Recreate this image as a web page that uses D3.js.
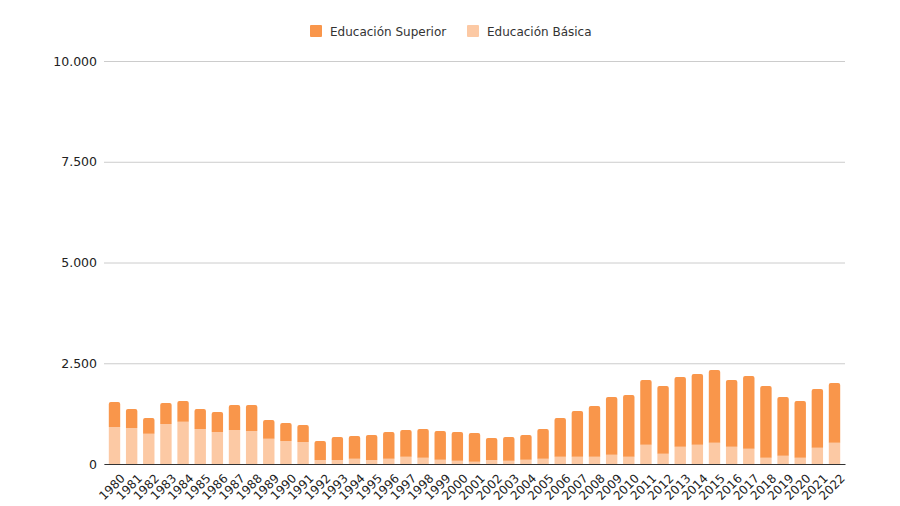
<!DOCTYPE html>
<html>
<head>
<meta charset="utf-8">
<script src="https://cdn.jsdelivr.net/npm/d3@7"></script>
<style>
  body { margin: 0; background: #fff; }
  text { font-family: "DejaVu Sans", Verdana, sans-serif; }
</style>
</head>
<body>
<div id="chart"></div>
<script>
const years = d3.range(1980, 2023).map(String);
const totals = [1540, 1365, 1140, 1514, 1563, 1365, 1290, 1464, 1464, 1092,
  1017, 968, 571, 670, 695, 720, 794, 844, 868, 819,
  794, 769, 645, 670, 720, 868, 1141, 1315, 1439, 1663,
  1712, 2084, 1935, 2159, 2233, 2333, 2084, 2184, 1935, 1663,
  1563, 1861, 2010];
const basica = [920, 893, 752, 993, 1050, 868, 794, 844, 819, 628,
  571, 546, 99, 99, 132, 99, 132, 182, 157, 107,
  83, 58, 99, 83, 107, 132, 182, 182, 182, 231,
  182, 479, 256, 430, 479, 529, 430, 380, 157, 207,
  157, 405, 529];
const superior = totals.map((t, i) => t - basica[i]);
const yTicks = [0, 2500, 5000, 7500, 10000];
const seriesNames = ["Educación Superior", "Educación Básica"];
const colors = ["#f9964b", "#fcc9a4"];

const width = 900, height = 506;
const margin = {top: 61, right: 55, bottom: 42, left: 104};

const data = years.map((y, i) => ({year: y, basica: basica[i], superior: superior[i]}));

const x = d3.scaleBand()
  .domain(years)
  .range([margin.left, width - margin.right])
  .paddingInner(0.335)
  .paddingOuter(0.28);

const y = d3.scaleLinear()
  .domain([0, 10000])
  .range([height - margin.bottom, margin.top]);

const fmt = d => d3.format(",")(d).replace(/,/g, ".");

const svg = d3.select("#chart").append("svg")
  .attr("width", width)
  .attr("height", height);

// grid + y labels
svg.append("g")
  .attr("transform", `translate(${margin.left},0)`)
  .call(d3.axisLeft(y).tickValues(yTicks).tickFormat(fmt)
    .tickSize(-(width - margin.left - margin.right)).tickPadding(7))
  .call(g => g.select(".domain").remove())
  .call(g => g.selectAll(".tick line").attr("stroke", "#cccccc"))
  .call(g => g.selectAll(".tick text").attr("font-size", 12.5).attr("fill", "#222"));

// basic segment
svg.append("g").selectAll("rect")
  .data(data)
  .join("rect")
  .attr("x", d => x(d.year))
  .attr("width", x.bandwidth())
  .attr("y", d => y(d.basica))
  .attr("height", d => y(0) - y(d.basica))
  .attr("fill", colors[1]);

// superior segment with rounded top
const r = 2;
svg.append("g").selectAll("path")
  .data(data)
  .join("path")
  .attr("fill", colors[0])
  .attr("d", d => {
    const x0 = x(d.year), x1 = x0 + x.bandwidth();
    const yt = y(d.basica + d.superior), yb = y(d.basica);
    return `M${x0},${yb}V${yt + r}Q${x0},${yt} ${x0 + r},${yt}H${x1 - r}Q${x1},${yt} ${x1},${yt + r}V${yb}Z`;
  });

// x axis
svg.append("g")
  .attr("transform", `translate(0,${y(0)})`)
  .call(d3.axisBottom(x).tickSize(0).tickPadding(6))
  .call(g => g.select(".domain").attr("stroke", "#333"))
  .call(g => g.selectAll(".tick text")
    .attr("font-size", 12)
    .attr("fill", "#222")
    .attr("text-anchor", "end")
    .attr("dy", "0.35em")
    .attr("transform", "translate(4,8) rotate(-45)"));

// legend
const legend = svg.append("g");
const legendX = [310, 467];
seriesNames.forEach((name, i) => {
  const g = legend.append("g").attr("transform", `translate(${legendX[i]},25)`);
  g.append("rect").attr("width", 12).attr("height", 12).attr("rx", 1).attr("fill", colors[i]);
  g.append("text").attr("x", 20).attr("y", 6.5).attr("dy", "0.35em")
    .attr("font-size", 12).attr("fill", "#333").text(name);
});
</script>
</body>
</html>
